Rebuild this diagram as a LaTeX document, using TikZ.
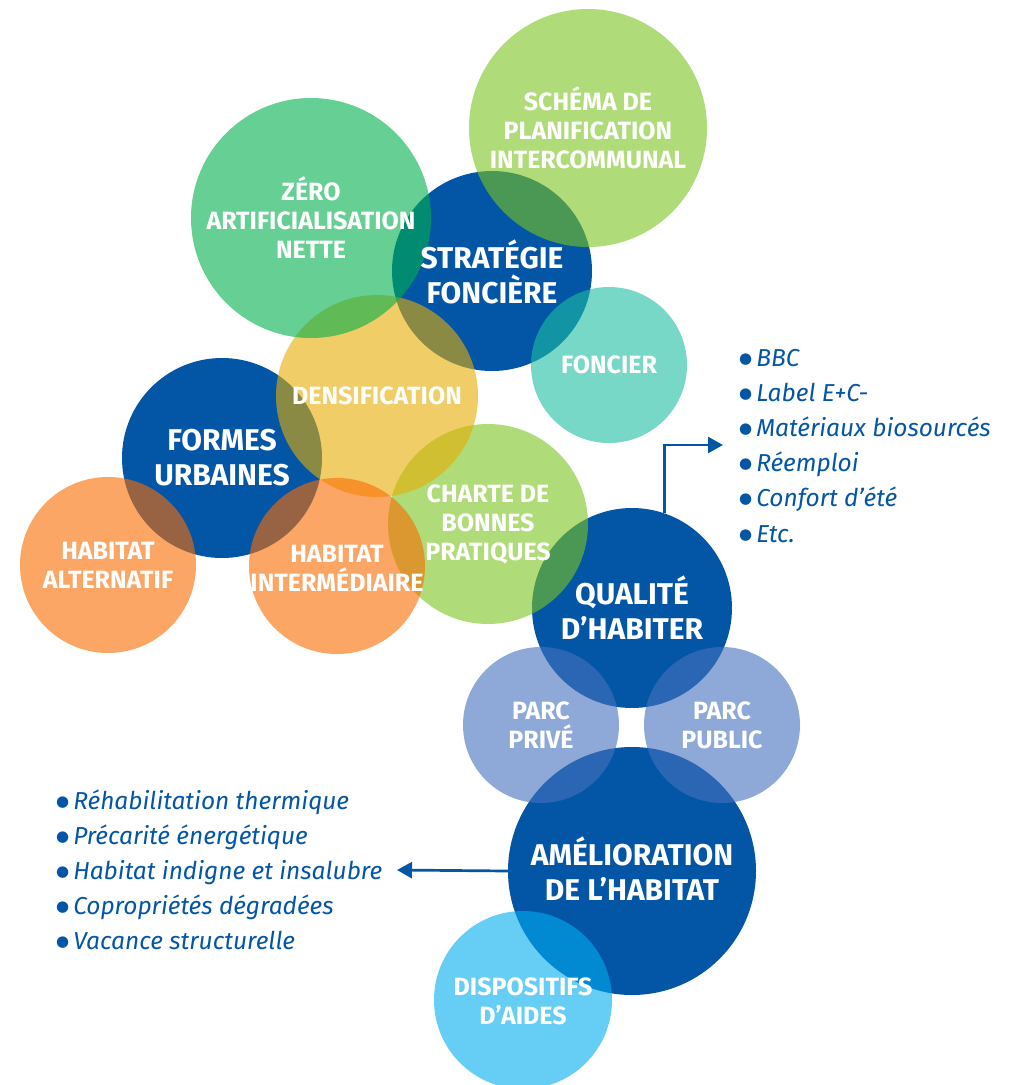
\documentclass[tikz,border=0pt]{standalone}
\usepackage{fontspec}
\setmainfont{Fira Sans}
\newfontfamily\symfont{DejaVu Sans}
\usetikzlibrary{arrows.meta}
\definecolor{dblue}{RGB}{3,86,166}
\definecolor{cschema}{RGB}{123,197,30}
\definecolor{czero}{RGB}{0,175,77}
\definecolor{cfoncier}{RGB}{30,190,163}
\definecolor{cdens}{RGB}{230,173,3}
\definecolor{corange}{RGB}{250,108,0}
\definecolor{cparc}{RGB}{68,113,190}
\definecolor{cdisp}{RGB}{0,172,238}
\newcommand{\blt}{\raisebox{3pt}{\symfont\fontsize{15}{15}\selectfont ●}\hspace{4pt}}
\begin{document}
\begin{tikzpicture}[x=1pt,y=-1pt,
  bubble/.style={circle, inner sep=0pt, draw=none, minimum size=#1},
  solidb/.style={fill=dblue},
  glass/.style={fill=#1, fill opacity=0.6},
  lab/.style={text=white, font=\bfseries\fontsize{25}{29}\selectfont, align=center, inner sep=0pt},
  biglab/.style={text=white, font=\bfseries\fontsize{30}{35}\selectfont, align=center, inner sep=0pt},
  item/.style={text=dblue, font=\itshape\fontsize{24.5}{35}\selectfont, anchor=base west, inner sep=0pt},
  conn/.style={draw=dblue, line width=2.7pt, -{Triangle[length=15pt,width=16pt]}}]
\useasboundingbox (0,0) rectangle (1011,1085);
\fill[white] (0,0) rectangle (1011,1085);

% opaque blue circles
\node[bubble=200pt, solidb] (strat) at (492,271) {};
\node[bubble=200pt, solidb] (formes) at (222,458) {};
\node[bubble=200pt, solidb] (qual) at (632,608) {};
\node[bubble=248pt, solidb] (amel) at (632,871) {};

% translucent circles
\node[bubble=238pt, glass=cschema] (schema) at (588,128) {};
\node[bubble=156pt, glass=cfoncier] (fonc) at (609,365) {};
\node[bubble=200pt, glass=cschema] (charte) at (488,524) {};
\node[bubble=202pt, glass=cdens] (dens) at (377,396) {};
\node[bubble=240pt, glass=czero] (zero) at (311,218) {};
\node[bubble=176pt, glass=corange] (halt) at (108,565) {};
\node[bubble=176pt, glass=corange] (hint) at (337,566) {};
\node[bubble=156pt, glass=cparc] (prive) at (541,725) {};
\node[bubble=156pt, glass=cparc] (public) at (722,725) {};
\node[bubble=178pt, glass=cdisp] (disp) at (523,1000) {};

% labels
\node[lab] (schema-t) at (schema) {SCHÉMA DE\\PLANIFICATION\\INTERCOMMUNAL};
\node[lab] (zero-t) at (zero) {ZÉRO\\ARTIFICIALISATION\\NETTE};
\node[biglab] (strat-t) at ([yshift=-1pt]strat) {STRATÉGIE\\FONCIÈRE};
\node[lab] (fonc-t) at (fonc) {FONCIER};
\node[lab] (dens-t) at (dens) {DENSIFICATION};
\node[biglab] (formes-t) at (formes) {FORMES\\URBAINES};
\node[lab] (halt-t) at (halt) {HABITAT\\ALTERNATIF};
\node[lab] (hint-t) at ([yshift=-2pt]hint) {HABITAT\\INTERMÉDIAIRE};
\node[lab] (charte-t) at (charte) {CHARTE DE\\BONNES\\PRATIQUES};
\node[biglab] (qual-t) at (qual) {QUALITÉ\\D’HABITER};
\node[lab] (prive-t) at (prive) {PARC\\PRIVÉ};
\node[lab] (public-t) at (public) {PARC\\PUBLIC};
\node[biglab] (amel-t) at ([yshift=2pt]amel) {AMÉLIORATION\\DE L’HABITAT};
\node[lab] (disp-t) at ([yshift=-1pt]disp) {DISPOSITIFS\\D’AIDES};

% right list
\node[item] (r1) at (739,366) {\blt BBC};
\node[item] (r2) at (739,401) {\blt Label E+C-};
\node[item] (r3) at (739,436) {\blt Matériaux biosourcés};
\node[item] (r4) at (739,471) {\blt Réemploi};
\node[item] (r5) at (739,506) {\blt Confort d’été};
\node[item] (r6) at (739,542) {\blt Etc.};

% left list
\node[item] (l1) at (56,809) {\blt Réhabilitation thermique};
\node[item] (l2) at (56,844) {\blt Précarité énergétique};
\node[item] (l3) at (56,879) {\blt Habitat indigne et insalubre};
\node[item] (l4) at (56,914) {\blt Copropriétés dégradées};
\node[item] (l5) at (56,949) {\blt Vacance structurelle};

% connectors
\coordinate (rtip) at (723,445);
\coordinate (ltip) at (397,870);
\draw[conn] (qual.71) |- (rtip);
\draw[conn] (amel.west) -- (ltip);
\end{tikzpicture}
\end{document}
